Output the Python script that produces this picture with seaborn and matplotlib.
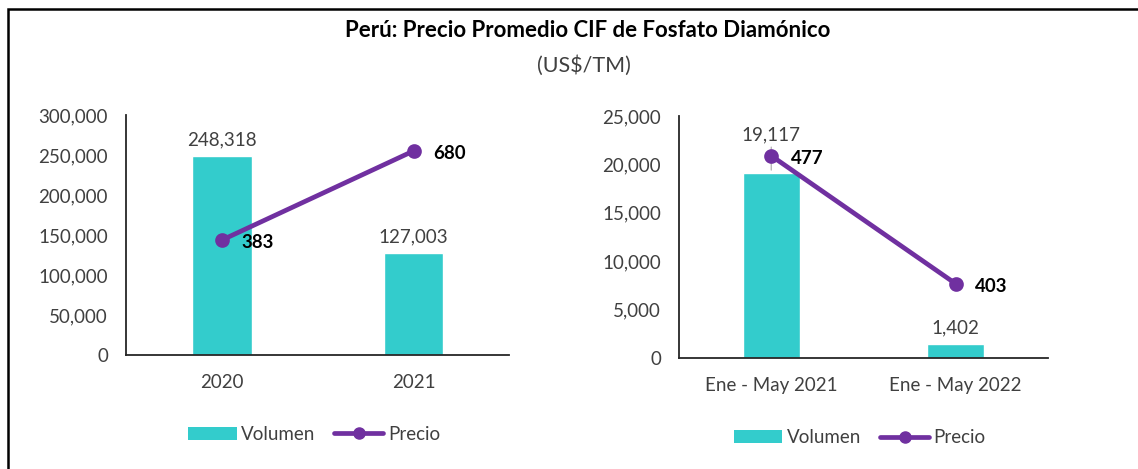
import numpy as np
import pandas as pd
import matplotlib
matplotlib.use("Agg")
import matplotlib.pyplot as plt
import seaborn as sns
from matplotlib.patches import Patch, Rectangle
from matplotlib.lines import Line2D
from matplotlib.ticker import FuncFormatter

# datos anuales
anual_periodos = ["2020", "2021"]
anual_volumen = [248318, 127003]
anual_precio = [383, 680]

# datos enero - mayo
parcial_periodos = ["Ene - May 2021", "Ene - May 2022"]
parcial_volumen = [19117, 1402]
parcial_precio = [477, 403]

titulo = "Perú: Precio Promedio CIF de Fosfato Diamónico"
subtitulo = "(US$/TM)"

BAR_COLOR = "#33CCCC"
LINE_COLOR = "#7030A0"
TEXT_COLOR = "#404040"
SPINE_COLOR = "#262626"
FS = 13.5

sns.set_theme(style="white")
plt.rcParams["font.family"] = ["Lato", "DejaVu Sans"]

fig = plt.figure(figsize=(11.38, 4.69), dpi=100)


def panel(rect, periodos, volumen, precio, vmax, vstep, plim, vol_offsets):
    ax = fig.add_axes(rect)
    df = pd.DataFrame({"periodo": periodos, "volumen": volumen, "precio": precio})

    sns.barplot(data=df, x="periodo", y="volumen", color=BAR_COLOR,
                width=0.31, saturation=1, ax=ax)
    ax.set_ylim(0, vmax)
    ax.set_yticks(np.arange(0, vmax + 1, vstep))
    ax.yaxis.set_major_formatter(FuncFormatter(lambda v, p: f"{v:,.0f}"))
    ax.set_xlabel("")
    ax.set_ylabel("")
    ax.tick_params(axis="y", length=0, pad=13, labelsize=FS, labelcolor=TEXT_COLOR)
    ax.tick_params(axis="x", length=0, pad=14, labelsize=FS, labelcolor=TEXT_COLOR)
    for s in ["top", "right"]:
        ax.spines[s].set_visible(False)
    for s in ["left", "bottom"]:
        ax.spines[s].set_color(SPINE_COLOR)
        ax.spines[s].set_linewidth(1.3)

    # etiquetas de volumen
    for i, (v, off) in enumerate(zip(volumen, vol_offsets)):
        arrow = dict(arrowstyle="-", color="#A6A6A6", lw=0.8, shrinkA=0, shrinkB=2) if off > 10 else None
        ax.annotate(f"{v:,.0f}", xy=(i, v), xytext=(0, off), textcoords="offset points",
                    ha="center", va="bottom", fontsize=FS, color=TEXT_COLOR,
                    arrowprops=arrow)

    # precio en eje secundario
    ax2 = ax.twinx()
    sns.pointplot(data=df, x="periodo", y="precio", color=LINE_COLOR, errorbar=None,
                  markers="o", linewidth=3.4, markersize=8, ax=ax2)
    ax2.set_ylim(*plim)
    ax2.set_yticks([])
    ax2.set_ylabel("")
    ax2.set_xlabel("")
    for s in ax2.spines.values():
        s.set_visible(False)
    for i, p in enumerate(precio):
        ax2.annotate(f"{p:,.0f}", xy=(i, p), xytext=(14, -2), textcoords="offset points",
                     ha="left", va="center", fontsize=FS, fontweight="bold", color="black")
    ax.set_xlim(-0.5, len(periodos) - 0.5)
    ax2.set_xlim(-0.5, len(periodos) - 0.5)

    handles = [Patch(facecolor=BAR_COLOR, edgecolor="none"),
               Line2D([], [], color=LINE_COLOR, lw=3.4, marker="o", markersize=8)]
    ax.legend(handles, ["Volumen", "Precio"], loc="center", bbox_to_anchor=(0.49, -0.33),
              ncol=2, frameon=False, fontsize=FS, handlelength=2.6, handletextpad=0.25,
              columnspacing=1.0, labelcolor=TEXT_COLOR)
    return ax


panel([0.1107, 0.243, 0.337, 0.512], anual_periodos, anual_volumen, anual_precio,
      300000, 50000, (0, 800), [6, 6])
panel([0.5967, 0.2367, 0.324, 0.516], parcial_periodos, parcial_volumen, parcial_precio,
      25000, 5000, (360, 500), [21, 6])

fig.text(0.516, 1 - 30 / 469, titulo, ha="center", va="center",
         fontsize=16, fontweight="bold", color="black")
fig.text(0.513, 1 - 66 / 469, subtitulo, ha="center", va="center",
         fontsize=15.5, color=TEXT_COLOR)

# marco del gráfico
fig.patches.append(Rectangle((0.007, -0.1), 1.2, 1.081, transform=fig.transFigure,
                             fill=False, edgecolor="black", lw=1.8))

fig.savefig("out.png", dpi=100)
